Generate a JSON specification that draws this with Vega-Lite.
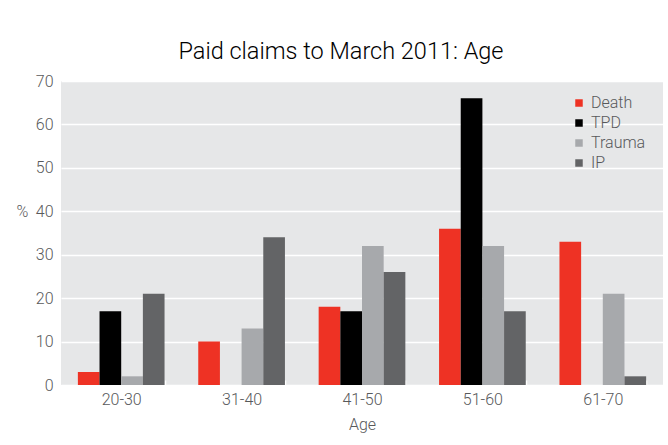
{
  "$schema": "https://vega.github.io/schema/vega-lite/v6.json",
  "width": 602,
  "height": 304,
  "autosize": {"type": "none"},
  "padding": {"left": 61, "top": 81, "right": 5, "bottom": 60},
  "background": "white",
  "title": {
    "text": "Paid claims to March 2011: Age",
    "font": "Roboto",
    "fontWeight": 300,
    "fontSize": 23.5,
    "color": "#000000",
    "anchor": "middle",
    "offset": 10,
    "dx": -21
  },
  "data": {
    "values": [
      {"age": "20-30", "type": "Death", "value": 3},
      {"age": "20-30", "type": "TPD", "value": 17},
      {"age": "20-30", "type": "Trauma", "value": 2},
      {"age": "20-30", "type": "IP", "value": 21},
      {"age": "31-40", "type": "Death", "value": 10},
      {"age": "31-40", "type": "TPD", "value": 0},
      {"age": "31-40", "type": "Trauma", "value": 13},
      {"age": "31-40", "type": "IP", "value": 34},
      {"age": "41-50", "type": "Death", "value": 18},
      {"age": "41-50", "type": "TPD", "value": 17},
      {"age": "41-50", "type": "Trauma", "value": 32},
      {"age": "41-50", "type": "IP", "value": 26},
      {"age": "51-60", "type": "Death", "value": 36},
      {"age": "51-60", "type": "TPD", "value": 66},
      {"age": "51-60", "type": "Trauma", "value": 32},
      {"age": "51-60", "type": "IP", "value": 17},
      {"age": "61-70", "type": "Death", "value": 33},
      {"age": "61-70", "type": "TPD", "value": 0},
      {"age": "61-70", "type": "Trauma", "value": 21},
      {"age": "61-70", "type": "IP", "value": 2}
    ]
  },
  "mark": {"type": "bar"},
  "encoding": {
    "x": {
      "field": "age",
      "type": "nominal",
      "title": "Age",
      "scale": {"paddingInner": 0.28, "paddingOuter": 0.14},
      "axis": {
        "labelAngle": 0,
        "domain": false,
        "ticks": true,
        "tickBand": "extent",
        "tickColor": "#ffffff",
        "tickWidth": 1.5,
        "tickSize": -5,
        "labelPadding": 11,
        "titlePadding": 9
      }
    },
    "xOffset": {"field": "type", "type": "nominal", "sort": ["Death", "TPD", "Trauma", "IP"]},
    "y": {
      "field": "value",
      "type": "quantitative",
      "title": "%",
      "scale": {"domain": [0, 70], "nice": false},
      "axis": {
        "values": [0, 10, 20, 30, 40, 50, 60, 70],
        "domain": false,
        "ticks": false,
        "labelPadding": 8,
        "gridColor": "#ffffff",
        "gridWidth": 1.5,
        "titleAngle": 0,
        "titleAlign": "center",
        "titleBaseline": "middle",
        "titleX": -39,
        "titleY": 130
      }
    },
    "color": {
      "field": "type",
      "type": "nominal",
      "sort": ["Death", "TPD", "Trauma", "IP"],
      "scale": {
        "domain": ["Death", "TPD", "Trauma", "IP"],
        "range": ["#ee3224", "#000000", "#a7a9ac", "#636466"]
      },
      "legend": {
        "title": null,
        "orient": "none",
        "legendX": 510,
        "legendY": 14,
        "symbolType": "square",
        "symbolSize": 56,
        "symbolStrokeWidth": 0,
        "labelFont": "Roboto",
        "labelFontWeight": 300,
        "labelFontSize": 16,
        "labelColor": "#58595b",
        "labelOffset": 4,
        "rowPadding": 4
      }
    }
  },
  "config": {
    "view": {"fill": "#e6e7e8", "stroke": null},
    "axis": {
      "labelFont": "Roboto",
      "labelFontWeight": 300,
      "labelFontSize": 16,
      "labelColor": "#58595b",
      "titleFont": "Roboto",
      "titleFontWeight": 300,
      "titleFontSize": 16,
      "titleColor": "#58595b"
    }
  }
}
